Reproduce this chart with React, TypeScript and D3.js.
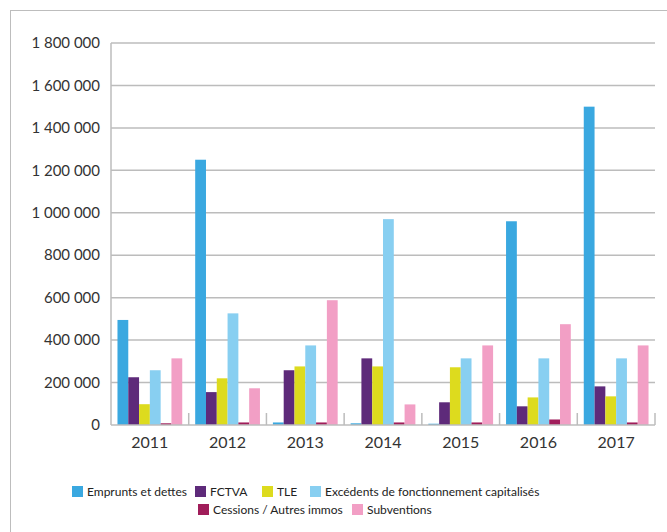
import React, { useEffect, useRef } from 'react';
import * as d3 from 'd3';

const years = ['2011', '2012', '2013', '2014', '2015', '2016', '2017'];
const seriesNames = [
  'Emprunts et dettes',
  'FCTVA',
  'TLE',
  'Excédents de fonctionnement capitalisés',
  'Cessions / Autres immos',
  'Subventions',
];
const seriesColors = ['#3aa8e0', '#5e2a7a', '#dddb1e', '#88cff1', '#a01d5a', '#f29fc5'];

const emprunts = [495000, 1250000, 12000, 8000, 6000, 960000, 1500000];
const fctva = [225000, 155000, 258000, 314000, 107000, 88000, 182000];
const tle = [98000, 220000, 276000, 276000, 272000, 130000, 135000];
const excedents = [258000, 526000, 375000, 970000, 314000, 314000, 314000];
const cessions = [8000, 12000, 12000, 12000, 12000, 26000, 12000];
const subventions = [314000, 173000, 588000, 97000, 375000, 475000, 375000];
const allSeries = [emprunts, fctva, tle, excedents, cessions, subventions];

const yTicks = [0, 200000, 400000, 600000, 800000, 1000000, 1200000, 1400000, 1600000, 1800000];

const W = 667;
const H = 532;
const FONT = 'Lato, "Open Sans", sans-serif';

const Chart = () => {
  const ref = useRef<SVGSVGElement | null>(null);

  useEffect(() => {
    const svg = d3.select(ref.current);
    svg.selectAll('*').remove();

    // outer frame (only top/left are visible in the picture)
    svg.append('rect')
      .attr('x', 10.5).attr('y', 10.5)
      .attr('width', W + 20).attr('height', H + 20)
      .attr('fill', 'none').attr('stroke', '#bdbdbd').attr('stroke-width', 1);

    const left = 111, right = 655, top = 43, bottom = 425;

    const x = d3.scaleBand().domain(years).range([left, right]).paddingInner(0).paddingOuter(0);
    const inner = d3.scaleBand().domain(seriesNames).range([0, x.bandwidth()]).paddingOuter(0.6).paddingInner(0);
    const y = d3.scaleLinear().domain([0, 1800000]).range([bottom, top]);

    const fr = d3.formatLocale({ decimal: ',', thousands: ' ', grouping: [3], currency: ['', ' €'] });
    const fmt = fr.format(',d');

    // grid
    svg.append('g').selectAll('line')
      .data(yTicks.filter(d => d > 0))
      .enter().append('line')
      .attr('x1', left).attr('x2', right)
      .attr('y1', d => y(d)).attr('y2', d => y(d))
      .attr('stroke', '#bcbcbc').attr('stroke-width', 1.5);

    // y labels
    svg.append('g').selectAll('text')
      .data(yTicks)
      .enter().append('text')
      .attr('x', 100).attr('y', d => y(d))
      .attr('dy', '0.35em')
      .attr('text-anchor', 'end')
      .attr('font-family', FONT).attr('font-size', 15)
      .attr('fill', '#333')
      .text(d => fmt(d));

    // bars
    allSeries.forEach((vals, si) => {
      svg.append('g').selectAll('rect')
        .data(vals)
        .enter().append('rect')
        .attr('x', (d, i) => (x(years[i]) as number) + (inner(seriesNames[si]) as number))
        .attr('width', inner.bandwidth())
        .attr('y', d => y(d))
        .attr('height', d => bottom - y(d))
        .attr('fill', seriesColors[si]);
    });

    // axes lines
    svg.append('line')
      .attr('x1', left).attr('x2', left).attr('y1', top).attr('y2', bottom)
      .attr('stroke', '#bcbcbc').attr('stroke-width', 1.5);
    svg.append('line')
      .attr('x1', left).attr('x2', right).attr('y1', bottom).attr('y2', bottom)
      .attr('stroke', '#bcbcbc').attr('stroke-width', 1.5);
    svg.append('g').selectAll('line')
      .data(years)
      .enter().append('line')
      .attr('x1', d => (x(d) as number) + x.bandwidth())
      .attr('x2', d => (x(d) as number) + x.bandwidth())
      .attr('y1', bottom - 12).attr('y2', bottom)
      .attr('stroke', '#bcbcbc').attr('stroke-width', 1.5);

    // x labels
    svg.append('g').selectAll('text')
      .data(years)
      .enter().append('text')
      .attr('x', d => (x(d) as number) + x.bandwidth() / 2)
      .attr('y', 442).attr('dy', '0.35em')
      .attr('text-anchor', 'middle')
      .attr('font-family', FONT).attr('font-size', 16)
      .attr('fill', '#333')
      .text(d => d);

    // legend
    const legendPos = [
      { sx: 72, ty: 492 },
      { sx: 195, ty: 492 },
      { sx: 262, ty: 492 },
      { sx: 310, ty: 492 },
      { sx: 198, ty: 510 },
      { sx: 352, ty: 510 },
    ];
    const lg = svg.append('g');
    seriesNames.forEach((name, i) => {
      const p = legendPos[i];
      lg.append('rect')
        .attr('x', p.sx).attr('y', p.ty - 6)
        .attr('width', 11).attr('height', 11)
        .attr('fill', seriesColors[i]);
      lg.append('text')
        .attr('x', p.sx + 15).attr('y', p.ty)
        .attr('dy', '0.35em')
        .attr('font-family', FONT).attr('font-size', 12)
        .attr('fill', '#222')
        .text(name);
    });
  }, []);

  return <svg ref={ref} width={W} height={H} style={{ display: 'block' }} />;
};

export default function App() {
  return (
    <div style={{ position: 'absolute', left: 0, top: 0 }}>
      <Chart />
    </div>
  );
}
